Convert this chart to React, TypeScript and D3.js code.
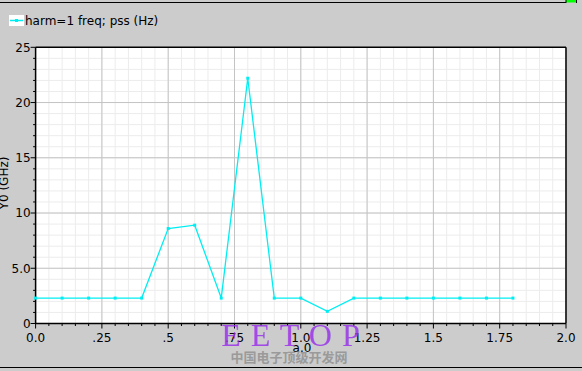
import React from "react";
import * as d3 from "d3";

const W = 582;
const H = 371;

const xValues = [0, 0.1, 0.2, 0.3, 0.4, 0.5, 0.6, 0.7, 0.8, 0.9, 1.0, 1.1, 1.2, 1.3, 1.4, 1.5, 1.6, 1.7, 1.8];
const yValues = [2.3, 2.3, 2.3, 2.3, 2.3, 8.6, 8.9, 2.3, 22.2, 2.3, 2.3, 1.1, 2.3, 2.3, 2.3, 2.3, 2.3, 2.3, 2.3];

const xTickValues = [0, 0.25, 0.5, 0.75, 1.0, 1.25, 1.5, 1.75, 2.0];
const xTickLabels = ["0.0", ".25", ".5", ".75", "1.0", "1.25", "1.5", "1.75", "2.0"];
const yTickValues = [0, 5, 10, 15, 20, 25];
const yTickLabels = ["0", "5.0", "10", "15", "20", "25"];

const legendLabel = "harm=1 freq; pss (Hz)";
const yAxisLabel = "Y0 (GHz)";
const xAxisLabel = "a.0";

const FONT = "'DejaVu Sans', sans-serif";
const CYAN = "#00eef2";

export default function App() {
  const left = 35.6;
  const right = 566;
  const top = 47.3;
  const bottom = 323.5;

  const x = d3.scaleLinear().domain([0, 2]).range([left, right]);
  const y = d3.scaleLinear().domain([0, 25]).range([bottom, top]);

  const xMinor = d3.range(0, 2.0001, 0.05);
  const yMinor = d3.range(0, 25.0001, 1);

  const line = d3
    .line<number>()
    .x((_, i) => x(xValues[i]))
    .y((d) => y(d));

  return (
    <svg
      width={W}
      height={H}
      style={{ position: "absolute", left: 0, top: 0, display: "block" }}
    >
      <rect x={0} y={0} width={W} height={H} fill="#cccccc" />
      {/* top window line */}
      <line x1={0} x2={566} y1={2.5} y2={2.5} stroke="#000" strokeWidth={1} />
      <rect x={566} y={0} width={10} height={2.5} fill="#00ff00" />
      <line x1={566} x2={566} y1={0} y2={3} stroke="#000" />
      <line x1={576.5} x2={576.5} y1={0} y2={3} stroke="#000" />
      {/* bottom window line */}
      <line x1={0} x2={W} y1={367.5} y2={367.5} stroke="#000" strokeWidth={1} />

      {/* legend */}
      <rect x={9} y={15} width={15} height={11} fill="#ffffff" />
      <line x1={10} x2={23} y1={20.5} y2={20.5} stroke={CYAN} strokeWidth={1.5} />
      <rect x={15} y={19} width={3} height={3} fill={CYAN} />
      <text x={25} y={25} fontFamily={FONT} fontSize={12} fill="#000">
        {legendLabel}
      </text>

      {/* plot area */}
      <rect x={left} y={top} width={right - left} height={bottom - top} fill="#ffffff" />
      {xMinor.map((v, i) => (
        <line key={"xm" + i} x1={x(v)} x2={x(v)} y1={top} y2={bottom} stroke="#ececec" strokeWidth={1} />
      ))}
      {yMinor.map((v, i) => (
        <line key={"ym" + i} x1={left} x2={right} y1={y(v)} y2={y(v)} stroke="#ececec" strokeWidth={1} />
      ))}
      {xTickValues.map((v, i) => (
        <line key={"xM" + i} x1={x(v)} x2={x(v)} y1={top} y2={bottom} stroke="#c4c4c4" strokeWidth={1} />
      ))}
      {yTickValues.map((v, i) => (
        <line key={"yM" + i} x1={left} x2={right} y1={y(v)} y2={y(v)} stroke="#c4c4c4" strokeWidth={1} />
      ))}

      {/* frame */}
      <line x1={left} x2={right} y1={top} y2={top} stroke="#000" strokeWidth={1.5} />
      <line x1={right} x2={right} y1={top} y2={bottom} stroke="#000" strokeWidth={1.5} />
      <line x1={left} x2={left} y1={top} y2={bottom + 0.5} stroke="#000" strokeWidth={1.5} />
      <line x1={left} x2={right} y1={bottom} y2={bottom} stroke="#000" strokeWidth={1.5} />

      {/* y ticks */}
      {yMinor.map((v, i) => (
        <line key={"yt" + i} x1={left - (v % 5 === 0 ? 5 : 2.5)} x2={left} y1={y(v)} y2={y(v)} stroke="#000" />
      ))}
      {yTickValues.map((v, i) => (
        <text
          key={"yl" + i}
          x={left - 5}
          y={y(v)}
          dy="0.36em"
          textAnchor="end"
          fontFamily={FONT}
          fontSize={12}
          fill="#000"
        >
          {yTickLabels[i]}
        </text>
      ))}
      {/* x ticks */}
      {xMinor.map((v, i) => (
        <line
          key={"xt" + i}
          x1={x(v)}
          x2={x(v)}
          y1={bottom}
          y2={bottom + (Math.abs((v / 0.25) - Math.round(v / 0.25)) < 1e-6 ? 5 : 2.5)}
          stroke="#000"
        />
      ))}
      {xTickValues.map((v, i) => (
        <text
          key={"xl" + i}
          x={x(v)}
          y={341.5}
          textAnchor="middle"
          fontFamily={FONT}
          fontSize={12}
          fill="#000"
        >
          {xTickLabels[i]}
        </text>
      ))}

      {/* data */}
      <path d={line(yValues) || ""} fill="none" stroke={CYAN} strokeWidth={1.3} />
      {yValues.map((v, i) => (
        <rect key={"p" + i} x={x(xValues[i]) - 1.5} y={y(v) - 1.5} width={3} height={3} fill={CYAN} />
      ))}

      {/* axis labels */}
      <text
        transform={`translate(7.5, 183) rotate(-90)`}
        textAnchor="middle"
        fontFamily={FONT}
        fontSize={12}
        fill="#000"
      >
        {yAxisLabel}
      </text>
      <text x={302} y={352} textAnchor="middle" fontFamily={FONT} fontSize={12} fill="#000">
        {xAxisLabel}
      </text>

      {/* watermark */}
      <text
        x={291}
        y={346}
        textAnchor="middle"
        fontFamily="'Liberation Serif', serif"
        fontSize={32}
        fill="#9a33ea"
        fillOpacity={0.85}
        letterSpacing={1}
      >
        E E T O P
      </text>
      <text
        x={289}
        y={362}
        textAnchor="middle"
        fontFamily="'Noto Sans CJK SC', sans-serif"
        fontSize={13}
        fontWeight="bold"
        fill="#9a9a9a"
      >
        中国电子顶级开发网
      </text>
    </svg>
  );
}
